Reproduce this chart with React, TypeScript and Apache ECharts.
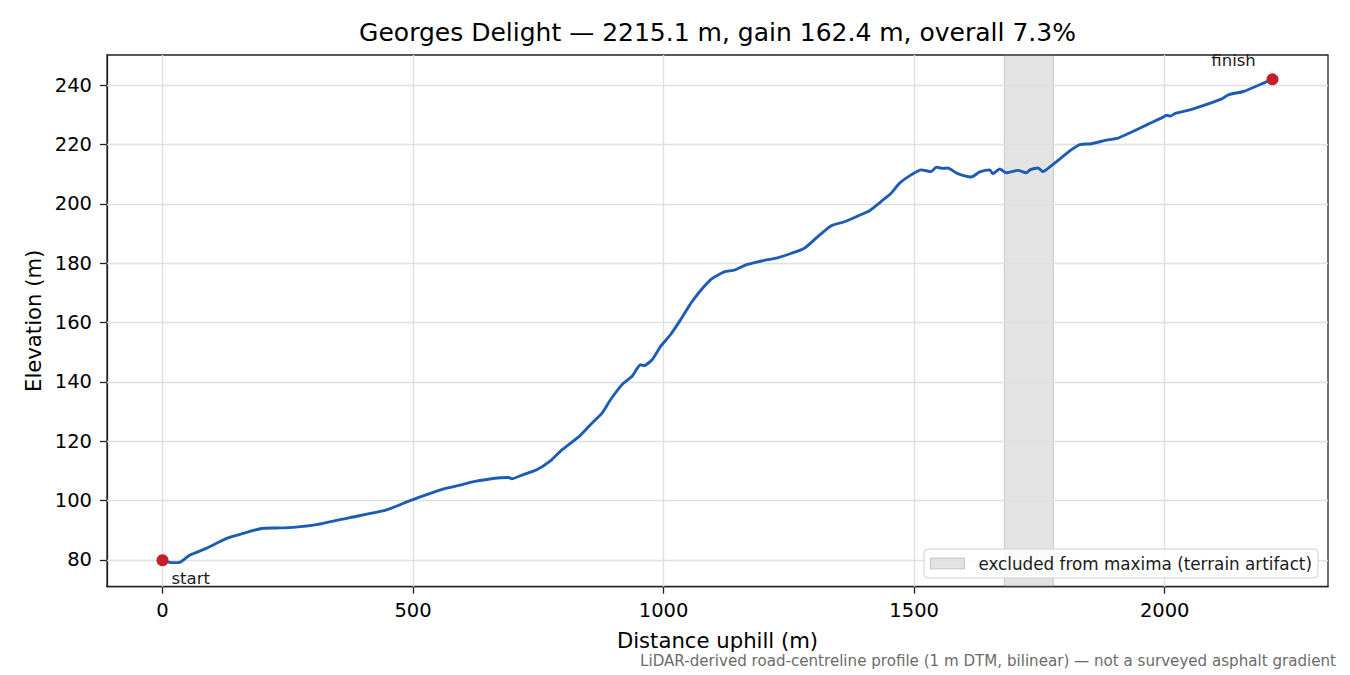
import { useEffect, useRef, type JSX } from "react";
import * as echarts from "echarts";

// distance uphill (m) and elevation (m)
const dist = [
  0, 12, 22, 34, 54, 87, 127, 161, 201, 230, 261, 307, 374, 447, 494, 530, 567, 600, 621, 650, 674,
  691, 697, 720, 747, 774, 797, 831, 854, 877, 894, 917, 937, 954, 961, 977, 994, 1014, 1034, 1057,
  1094, 1121, 1141, 1167, 1201, 1227, 1254, 1281, 1307, 1334, 1361, 1387, 1411, 1434, 1454, 1471,
  1494, 1514, 1534, 1544, 1557, 1567, 1587, 1614, 1631, 1651, 1657, 1671, 1684, 1707, 1724, 1731,
  1747, 1757, 1774, 1794, 1814, 1831, 1854, 1881, 1907, 1931, 1967, 1994, 2004, 2011, 2021, 2054,
  2114, 2127, 2157, 2187, 2215.1,
];
const elev = [
  79.9, 79.3, 79.1, 79.2, 81.6, 83.9, 87.2, 89.0, 90.7, 90.8, 91.0, 91.9, 94.3, 96.9, 100.0, 102.2,
  104.2, 105.5, 106.4, 107.2, 107.7, 107.8, 107.4, 108.8, 110.4, 113.4, 117.1, 121.6, 125.6, 129.5,
  134.0, 139.1, 141.9, 145.8, 145.5, 147.5, 152.0, 156.0, 161.0, 167.2, 174.5, 177.1, 177.7, 179.6,
  181.0, 181.8, 183.3, 185.1, 188.9, 192.6, 194.0, 195.9, 197.7, 200.8, 203.6, 207.0, 209.8, 211.5,
  210.9, 212.4, 212.0, 212.1, 210.2, 209.1, 210.8, 211.5, 210.2, 211.8, 210.5, 211.3, 210.5, 211.5,
  212.1, 210.9, 212.9, 215.6, 218.3, 220.0, 220.3, 221.4, 222.2, 224.0, 226.9, 229.0, 229.9, 229.6,
  230.5, 231.9, 235.4, 236.8, 237.9, 240.0, 242.0,
];

const xTicks = [0, 500, 1000, 1500, 2000];
const yTicks = [80, 100, 120, 140, 160, 180, 200, 220, 240];
const excludedBand = [1680, 1778];
const endpointNames = ["start", "finish"];
const endpoints = [
  [0, 79.9],
  [2215.1, 242.0],
];

const titleText = "Georges Delight — 2215.1 m, gain 162.4 m, overall 7.3%";
const bandName = "excluded from maxima (terrain artifact)";
const footnote =
  "LiDAR-derived road-centreline profile (1 m DTM, bilinear) — not a surveyed asphalt gradient";

const FONT = "DejaVu Sans";

function Chart(): JSX.Element {
  const chartRef = useRef<HTMLDivElement>(null);

  useEffect(() => {
    if (!chartRef.current) return;
    const chart = echarts.init(chartRef.current, null, { renderer: "svg" });

    chart.setOption({
      animation: false,
      backgroundColor: "#ffffff",
      title: {
        text: titleText,
        left: 712.5,
        top: 15,
        textAlign: "center",
        textStyle: { fontFamily: FONT, fontSize: 25, fontWeight: "normal", color: "#000" },
      },
      legend: {
        data: [
          {
            name: bandName,
            icon: "rect",
            itemStyle: {
              color: "rgba(128,128,128,0.22)",
              borderColor: "rgba(110,110,110,0.3)",
              borderWidth: 1,
            },
          },
        ],
        z: 20,
        right: 32,
        top: 549,
        itemWidth: 34,
        itemHeight: 11,
        padding: [6, 6, 6, 6],
        selectedMode: false,
        backgroundColor: "rgba(255,255,255,0.85)",
        borderColor: "#d0d0d0",
        borderWidth: 1,
        borderRadius: 4,
        textStyle: { fontFamily: FONT, fontSize: 16.8, color: "#1a1a1a", padding: [0, 0, 0, 9] },
      },
      grid: {
        left: 107,
        right: 22,
        top: 55,
        bottom: 88.3,
        show: true,
        borderColor: "#222",
        borderWidth: 1.3,
        backgroundColor: "transparent",
        containLabel: false,
      },
      xAxis: {
        type: "value",
        min: -110.76,
        max: 2325.86,
        name: "Distance uphill (m)",
        nameLocation: "middle",
        nameGap: 43,
        nameTextStyle: { fontFamily: FONT, fontSize: 21.2, color: "#000" },
        axisLine: { show: true, onZero: false, lineStyle: { color: "#222", width: 1.3 } },
        axisTick: { show: true, length: 7, customValues: xTicks, lineStyle: { color: "#222", width: 1.3 } },
        axisLabel: {
          customValues: xTicks,
          formatter: (v: number) => String(v),
          margin: 14,
          fontFamily: FONT,
          fontSize: 19.5,
          color: "#000",
        },
        splitLine: { show: false },
      },
      yAxis: {
        type: "value",
        min: 71.0,
        max: 250.2,
        name: "Elevation (m)",
        nameLocation: "middle",
        nameGap: 62,
        nameRotate: 90,
        nameTextStyle: { fontFamily: FONT, fontSize: 21.2, color: "#000" },
        axisLine: { show: true, onZero: false, lineStyle: { color: "#222", width: 1.3 } },
        axisTick: { show: true, length: 7, customValues: yTicks, lineStyle: { color: "#222", width: 1.3 } },
        axisLabel: {
          customValues: yTicks,
          formatter: (v: number) => String(v),
          margin: 15,
          fontFamily: FONT,
          fontSize: 19.5,
          color: "#000",
        },
        splitLine: { show: false },
      },
      series: [
        {
          // grid lines at the tick positions
          name: "grid",
          type: "line",
          data: [],
          silent: true,
          z: 1,
          markLine: {
            z: 1,
            silent: true,
            symbol: ["none", "none"],
            label: { show: false },
            emphasis: { disabled: true },
            lineStyle: { color: "#e0e0e0", width: 1.4, type: "solid" },
            data: [
              ...xTicks.map((v) => ({ xAxis: v })),
              ...yTicks.map((v) => ({ yAxis: v })),
            ],
          },
        },
        {
          name: bandName,
          type: "line",
          data: [],
          silent: true,
          z: 2,
          itemStyle: { color: "rgba(128,128,128,0.22)" },
          markArea: {
            silent: true,
            itemStyle: {
              color: "rgba(128,128,128,0.22)",
              borderColor: "rgba(110,110,110,0.25)",
              borderWidth: 1.2,
            },
            data: [[{ xAxis: excludedBand[0] }, { xAxis: excludedBand[1] }]],
          },
        },
        {
          name: "profile",
          type: "line",
          data: dist.map((d, i) => [d, elev[i]]),
          showSymbol: false,
          smooth: 0.2,
          z: 3,
          lineStyle: { color: "#1c5db3", width: 2.9 },
          itemStyle: { color: "#1c5db3" },
        },
        {
          name: "endpoints",
          type: "scatter",
          symbolSize: 12,
          z: 6,
          itemStyle: { color: "#c21f2b", opacity: 1 },
          data: [
            {
              value: endpoints[0],
              label: {
                show: true,
                formatter: endpointNames[0],
                position: [15, 24.5],
                align: "left",
                verticalAlign: "middle",
                fontFamily: FONT,
                fontSize: 16.5,
                color: "#1a1a1a",
              },
            },
            {
              value: endpoints[1],
              label: {
                show: true,
                formatter: endpointNames[1],
                position: [-10.7, -13.3],
                align: "right",
                verticalAlign: "middle",
                fontFamily: FONT,
                fontSize: 16.5,
                color: "#1a1a1a",
              },
            },
          ],
        },
      ],
      graphic: [
        {
          type: "text",
          right: 14,
          top: 653,
          style: {
            text: footnote,
            fontFamily: FONT,
            fontSize: 15.1,
            fill: "#6b6b6b",
          },
        },
      ],
    });

    return () => {
      chart.dispose();
    };
  }, []);

  return (
    <div
      ref={chartRef}
      style={{ position: "fixed", left: 0, top: 0, width: "1350px", height: "675px" }}
    />
  );
}

export default function App(): JSX.Element {
  return <Chart />;
}
